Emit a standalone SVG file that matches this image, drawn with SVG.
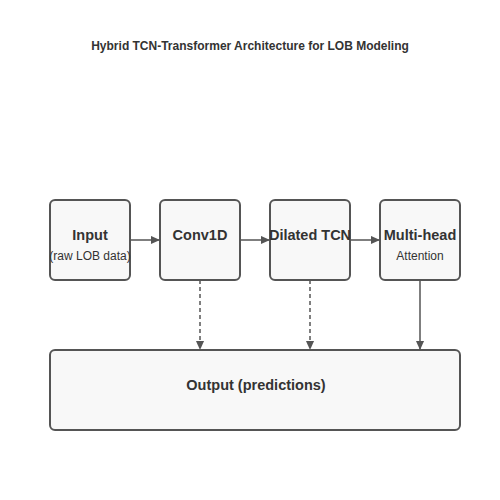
<svg xmlns="http://www.w3.org/2000/svg" width="500" height="500" viewBox="0 0 500 500">
<style>
.node rect{fill:#f8f8f8;stroke:#555;stroke-width:2}
.lbl{font-family:"Liberation Sans",Arial,sans-serif;font-weight:bold;font-size:14.5px;fill:#333;text-anchor:middle}
.sub{font-family:"Liberation Sans",Arial,sans-serif;font-size:12px;fill:#333;text-anchor:middle}
.title{font-family:"Liberation Sans",Arial,sans-serif;font-weight:bold;font-size:12px;fill:#333;text-anchor:middle}
.edge{stroke:#555;stroke-width:1.5;fill:none}
.dash{stroke-dasharray:4,3}
</style>
<defs>
<marker id="ah" viewBox="0 0 10 10" refX="10" refY="5" markerWidth="6" markerHeight="6" orient="auto" markerUnits="strokeWidth">
<path d="M0,0.5 L10,5 L0,9.5 z" fill="#555"/>
</marker>
</defs>
<rect width="500" height="500" fill="#fff"/>
<text class="title" x="250" y="50">Hybrid TCN-Transformer Architecture for LOB Modeling</text>
<g id="input" class="node"><rect x="50" y="200" width="80" height="80" rx="5"/><text class="lbl" x="90" y="240">Input</text><text class="sub" x="90" y="260">(raw LOB data)</text></g>
<g id="conv1d" class="node"><rect x="160" y="200" width="80" height="80" rx="5"/><text class="lbl" x="200" y="240">Conv1D</text></g>
<g id="tcn" class="node"><rect x="270" y="200" width="80" height="80" rx="5"/><text class="lbl" x="310" y="240">Dilated TCN</text></g>
<g id="attn" class="node"><rect x="380" y="200" width="80" height="80" rx="5"/><text class="lbl" x="420" y="240">Multi-head</text><text class="sub" x="420" y="260">Attention</text></g>
<g id="output" class="node"><rect x="50" y="350" width="410" height="80" rx="5"/><text class="lbl" x="256" y="390">Output (predictions)</text></g>
<g id="connectors">
<line class="edge" x1="130" y1="240" x2="160" y2="240" marker-end="url(#ah)"/>
<line class="edge" x1="240" y1="240" x2="270" y2="240" marker-end="url(#ah)"/>
<line class="edge" x1="350" y1="240" x2="380" y2="240" marker-end="url(#ah)"/>
<line class="edge dash" x1="200" y1="280" x2="200" y2="350" marker-end="url(#ah)"/>
<line class="edge dash" x1="310" y1="280" x2="310" y2="350" marker-end="url(#ah)"/>
<line class="edge" x1="420" y1="280" x2="420" y2="350" marker-end="url(#ah)"/>
</g>
</svg>
